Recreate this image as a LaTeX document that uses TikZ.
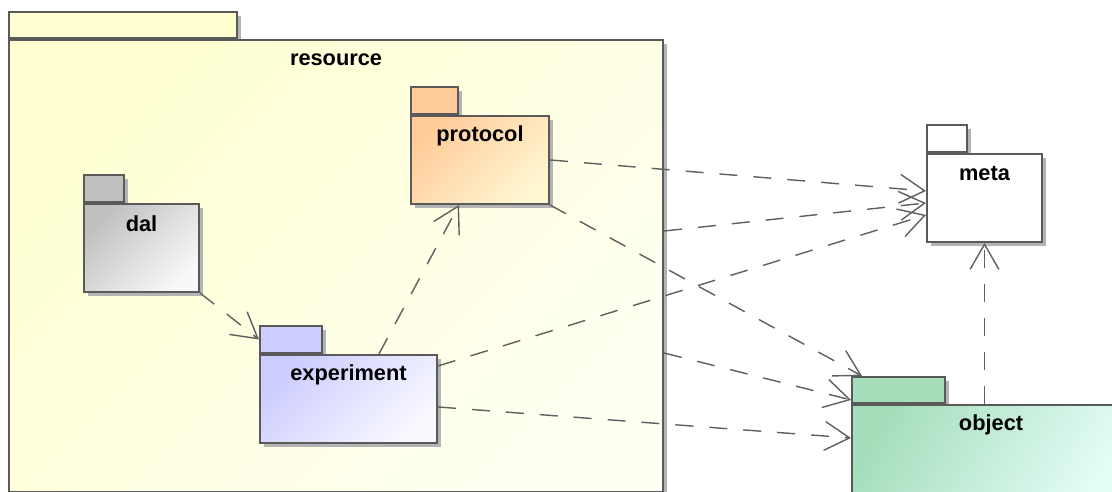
\documentclass[tikz,border=0pt]{standalone}
\usepackage{fontspec}
\setmainfont{Liberation Sans}
\usepackage{tikz}
\usetikzlibrary{positioning,shapes,shadows,arrows}
\usetikzlibrary{arrows.meta}
\definecolor{pkgline}{HTML}{5A5A5A}
\definecolor{pkgshadow}{HTML}{B4B4B4}
\definecolor{depline}{HTML}{5F5F5F}
\definecolor{resourcedark}{HTML}{FFFFD2}
\definecolor{resourcelight}{HTML}{FFFFF2}
\definecolor{protocoldark}{HTML}{FFCC99}
\definecolor{protocollight}{HTML}{FFF6D2}
\definecolor{daldark}{HTML}{C0C0C0}
\definecolor{dallight}{HTML}{F8F8F8}
\definecolor{experimentdark}{HTML}{CCCCFF}
\definecolor{experimentlight}{HTML}{F8F8FF}
\definecolor{objectdark}{HTML}{A6DEBC}
\definecolor{objectlight}{HTML}{E2FCF6}
\tikzstyle{pkg}=[rectangle, draw=pkgline, line width=1.4pt, inner sep=0, anchor=north west, drop shadow={shadow xshift=0.1cm, shadow yshift=-0.1cm, fill=pkgshadow, opacity=1}]
\tikzstyle{pkgname}=[anchor=center, yshift=-0.525cm, font=\fontsize{15.5}{18}\selectfont\bfseries, text=black]
\tikzstyle{dep}=[->, draw=depline, line width=1pt, dash pattern=on 0.45cm off 0.4cm]
\tikzset{>={Straight Barb[length=0.625cm, width=0.72cm]}}

\begin{document}
\begin{tikzpicture}[x=0.025cm, y=-0.025cm]
        \useasboundingbox (0,0) rectangle (1112,492);

        % resource package
        \node (resourcetab) [pkg, fill=resourcedark, minimum width=5.7cm, minimum height=0.65cm] at (8,11) {};
        \node (resource) [pkg, top color=resourcedark, bottom color=resourcelight, shading angle=45, minimum width=16.35cm, minimum height=11.3cm, label={[pkgname]north:resource}] at (resourcetab.south west) {};

        % inner packages
        \node (protocoltab) [pkg, fill=protocoldark, minimum width=1.175cm, minimum height=0.675cm] at (410,86) {};
        \node (protocol) [pkg, top color=protocoldark, bottom color=protocollight, shading angle=45, minimum width=3.45cm, minimum height=2.2cm, label={[pkgname]north:protocol}] at (protocoltab.south west) {};

        \node (daltab) [pkg, fill=daldark, minimum width=1cm, minimum height=0.675cm] at (83,174) {};
        \node (dal) [pkg, top color=daldark, bottom color=dallight, shading angle=45, minimum width=2.875cm, minimum height=2.2cm, label={[pkgname]north:dal}] at (daltab.south west) {};

        \node (experimenttab) [pkg, fill=experimentdark, minimum width=1.55cm, minimum height=0.675cm] at (259,325) {};
        \node (experiment) [pkg, top color=experimentdark, bottom color=experimentlight, shading angle=45, minimum width=4.425cm, minimum height=2.2cm, label={[pkgname]north:experiment}] at (experimenttab.south west) {};

        % outer packages
        \node (metatab) [pkg, fill=white, minimum width=1cm, minimum height=0.675cm] at (926,124) {};
        \node (meta) [pkg, fill=white, minimum width=2.875cm, minimum height=2.2cm, label={[pkgname]north:meta}] at (metatab.south west) {};

        \node (objecttab) [pkg, fill=objectdark, minimum width=2.325cm, minimum height=0.65cm] at (851,376) {};
        \node (object) [pkg, top color=objectdark, bottom color=objectlight, shading angle=60, minimum width=6.95cm, minimum height=2.2cm, label={[pkgname]north:object}] at (objecttab.south west) {};

        % dependencies
        \draw [dep] (dal.south east) -- (experimenttab.west);
        \draw [dep] ([xshift=0.76cm]experiment.north) -- ([xshift=-0.525cm]protocol.south);
        \draw [dep] (protocol.east) -- ([yshift=0.175cm]meta.west);
        \draw [dep] (protocol.south east) -- ([xshift=0.275cm]objecttab.north west);
        \draw [dep] ([yshift=0.875cm]resource.east) -- ([yshift=-0.125cm]meta.west);
        \draw [dep] ([yshift=0.825cm]experiment.east) -- ([yshift=-0.425cm]meta.west);
        \draw [dep] ([yshift=-2.175cm]resource.east) -- ([yshift=0.1cm]objecttab.south west);
        \draw [dep] ([yshift=-0.2cm]experiment.east) -- ([yshift=0.275cm]object.west);
        \draw [dep] (object.north -| meta.south) -- (meta.south);

    \end{tikzpicture}
\end{document}
